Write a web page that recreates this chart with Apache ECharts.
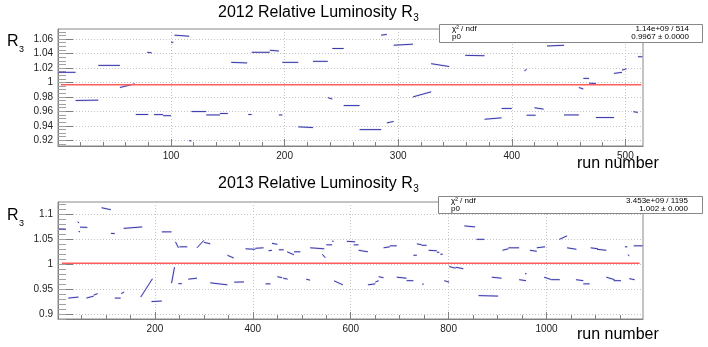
<!DOCTYPE html>
<html>
<head>
<meta charset="utf-8">
<script src="https://cdn.jsdelivr.net/npm/echarts@6/dist/echarts.min.js"></script>
<style>
html, body { margin: 0; padding: 0; background: #fff; }
#chart { width: 708px; height: 347px; }
</style>
</head>
<body>
<div id="chart"></div>
<script>
// one entry per fill: [first run, last run, R3 at first run, R3 at last run]
var seg2012 = [
    [1, 16, 1.014, 1.014], [16, 36, 0.975, 0.9755], [36, 55, 1.0236, 1.0236],
    [55, 68, 0.993, 0.998], [69, 80, 0.9556, 0.9556], [79, 83, 1.0417, 1.041],
    [85, 93, 0.9555, 0.9555], [93, 100, 0.954, 0.954], [100, 102, 1.0556, 1.0556],
    [103, 116, 1.0655, 1.064], [116, 118, 0.9194, 0.919], [118, 131, 0.9597, 0.9597],
    [131, 143, 0.955, 0.955], [143, 150, 0.957, 0.957], [153, 167, 1.0278, 1.027],
    [168, 171, 0.9556, 0.9556], [171, 187, 1.0417, 1.0417], [187, 195, 1.0445, 1.0435],
    [195, 198, 0.955, 0.955], [198, 212, 1.0278, 1.0278], [212, 225, 0.9385, 0.9375],
    [225, 238, 1.0292, 1.0292], [238, 242, 0.979, 0.977], [242, 252, 1.047, 1.047],
    [252, 266, 0.968, 0.968], [266, 285, 0.9347, 0.9347], [285, 290, 1.0655, 1.0665],
    [290, 296, 0.944, 0.946], [296, 313, 1.0515, 1.053], [313, 329, 0.98, 0.987],
    [329, 345, 1.026, 1.022], [359, 376, 1.0375, 1.037], [376, 391, 0.949, 0.951],
    [391, 400, 0.964, 0.964], [407, 412, 1.0568, 1.0568], [411, 413, 1.016, 1.018],
    [413, 421, 0.9546, 0.9546], [420, 428, 0.965, 0.963], [428, 431, 1.057, 1.055],
    [431, 446, 1.0505, 1.0515], [446, 459, 0.955, 0.955], [459, 463, 0.993, 0.991],
    [463, 468, 1.0056, 1.0056], [468, 474, 0.999, 0.9985], [474, 490, 0.9514, 0.9514],
    [490, 497, 1.0125, 1.014], [497, 501, 1.017, 1.019], [507, 511, 0.9595, 0.9585],
    [511, 515, 1.0356, 1.0356]
];
var seg2013 = [
    [4, 18, 1.071, 1.0705], [23, 44, 0.932, 0.934], [42, 43, 1.085, 1.083],
    [44, 45, 1.066, 1.065], [47, 62, 1.0745, 1.074], [60, 75, 0.932, 0.936],
    [75, 83, 0.938, 0.941], [91, 110, 1.1135, 1.1095], [110, 118, 1.062, 1.0615],
    [118, 130, 0.932, 0.932], [131, 137, 0.941, 0.944], [136, 174, 1.072, 1.075],
    [171, 195, 0.934, 0.971], [193, 214, 0.925, 0.926], [214, 234, 1.065, 1.065],
    [234, 240, 0.962, 0.994], [242, 248, 1.045, 1.033], [248, 255, 0.961, 0.961],
    [250, 266, 1.035, 1.035], [268, 286, 0.970, 0.972], [286, 300, 1.033, 1.048],
    [300, 313, 1.044, 1.041], [313, 348, 0.9626, 0.9586], [348, 361, 1.018, 1.0125],
    [362, 382, 0.964, 0.9645], [385, 405, 1.031, 1.030], [405, 422, 1.032, 1.033],
    [426, 436, 0.9606, 0.9606], [432, 439, 1.027, 1.028], [439, 450, 1.042, 1.040],
    [450, 460, 0.975, 0.973], [453, 463, 1.029, 1.029], [462, 471, 0.972, 0.970],
    [470, 484, 1.025, 1.019], [484, 497, 1.025, 1.025], [509, 517, 0.970, 0.968],
    [517, 546, 1.033, 1.031], [542, 548, 1.02, 1.013], [550, 562, 1.039, 1.039],
    [562, 565, 1.046, 1.046], [566, 584, 0.9667, 0.9586], [592, 609, 1.046, 1.045],
    [606, 616, 1.039, 1.039], [616, 635, 1.028, 1.025], [635, 650, 0.9586, 0.9606],
    [650, 657, 0.964, 0.967], [657, 667, 0.975, 0.973], [667, 680, 1.033, 1.035],
    [680, 694, 1.037, 1.037], [694, 714, 0.974, 0.972], [714, 728, 0.967, 0.967],
    [728, 735, 1.018, 1.018], [735, 745, 1.041, 1.039], [745, 755, 1.038, 1.038],
    [746, 748, 0.96, 0.96], [759, 776, 1.028, 1.027], [776, 781, 1.024, 1.024],
    [783, 788, 1.02, 1.02], [791, 801, 0.967, 0.964], [801, 814, 0.9955, 0.992],
    [814, 830, 0.994, 0.991], [832, 854, 1.077, 1.075], [857, 873, 1.050, 1.050],
    [861, 901, 0.937, 0.936], [888, 908, 0.974, 0.972], [910, 922, 1.028, 1.031],
    [922, 944, 1.033, 1.033], [944, 958, 0.969, 0.967], [956, 957, 0.981, 0.981],
    [966, 980, 1.028, 1.026], [980, 997, 1.033, 1.035], [995, 1010, 0.974, 0.969],
    [1010, 1027, 0.969, 0.969], [1026, 1042, 1.050, 1.057], [1042, 1061, 1.033, 1.030],
    [1060, 1075, 0.969, 0.967], [1075, 1088, 0.9606, 0.9606], [1090, 1105, 1.033, 1.031],
    [1103, 1122, 1.030, 1.028], [1122, 1139, 0.974, 0.969], [1137, 1152, 0.967, 0.967],
    [1160, 1165, 1.035, 1.035], [1166, 1169, 1.019, 1.017], [1169, 1180, 0.971, 0.969],
    [1178, 1196, 1.037, 1.037]
];

// pol0 fits
var fit2012 = 0.9967;
var fit2013 = 1.002;
var fitRange2012 = [3, 514];
var fitRange2013 = [10, 1190];
var stats2012 = ['1.14e+09 / 514', '0.9967 \u00b1 0.0000'];
var stats2013 = ['3.453e+09 / 1195', '1.002 \u00b1 0.000'];

// axes
var xRange2012 = [0.5, 515.5];
var yRange2012 = [0.912, 1.074];
var xRange2013 = [2, 1197];
var yRange2013 = [0.89, 1.125];
var xLabels2012 = [100, 200, 300, 400, 500];
var yLabels2012 = [0.92, 0.94, 0.96, 0.98, 1, 1.02, 1.04, 1.06];
var xLabels2013 = [200, 400, 600, 800, 1000];
var yLabels2013 = [0.9, 0.95, 1, 1.05, 1.1];

function steps(from, to, step) {
    var out = [];
    for (var v = from; v <= to + 1e-9; v += step) out.push(Math.round(v * 10000) / 10000);
    return out;
}
var xMinor2012 = steps(20, 500, 20);
var yMinor2012 = steps(0.915, 1.07, 0.005);
var xMinor2013 = steps(50, 1150, 50);
var yMinor2013 = steps(0.89, 1.12, 0.01);

var FONT = 'Liberation Sans';
var axisGray = '#808080';
function plain(v) { return String(v); }

function mainX(grid, range, labels) {
    return {
        type: 'value', gridIndex: grid, min: range[0], max: range[1], position: 'bottom',
        axisLine: { onZero: false, lineStyle: { color: axisGray } },
        axisTick: { inside: true, length: 7, customValues: labels, lineStyle: { color: axisGray } },
        axisLabel: { customValues: labels, formatter: plain, color: '#222', fontSize: 10, fontFamily: FONT, margin: 5 },
        splitLine: { show: true, lineStyle: { color: '#c4c4c4', type: [1, 2] } }
    };
}
function minorX(grid, range, ticks) {
    return {
        type: 'value', gridIndex: grid, min: range[0], max: range[1], position: 'bottom',
        axisLine: { show: false, onZero: false },
        axisTick: { inside: true, length: 4, customValues: ticks, lineStyle: { color: axisGray } },
        axisLabel: { show: false }, splitLine: { show: false }
    };
}
function mainY(grid, range, labels) {
    return {
        type: 'value', gridIndex: grid, min: range[0], max: range[1], position: 'left',
        axisLine: { onZero: false, lineStyle: { color: axisGray } },
        axisTick: { inside: true, length: 15, customValues: labels, lineStyle: { color: axisGray } },
        axisLabel: { customValues: labels, formatter: plain, color: '#222', fontSize: 10, fontFamily: FONT, margin: 5 },
        splitLine: { show: true, lineStyle: { color: '#c4c4c4', type: [1, 2] } }
    };
}
function minorY(grid, range, ticks) {
    return {
        type: 'value', gridIndex: grid, min: range[0], max: range[1], position: 'left',
        axisLine: { show: false, onZero: false },
        axisTick: { inside: true, length: 8, customValues: ticks, lineStyle: { color: '#a0a0a0' } },
        axisLabel: { show: false }, splitLine: { show: false }
    };
}

function segItem(params, api) {
    var p0 = api.coord([api.value(0), api.value(2)]);
    var p1 = api.coord([api.value(1), api.value(3)]);
    var shape = { x1: p0[0], y1: p0[1], x2: Math.max(p1[0], p0[0] + 1.5), y2: p1[1] };
    return {
        type: 'group',
        children: [
            { type: 'line', shape: shape, style: { stroke: 'rgba(130,130,220,0.25)', lineWidth: 2 } },
            { type: 'line', shape: shape, style: { stroke: '#3a3aaa', lineWidth: 1 } }
        ]
    };
}

function segSeries(idx, data) {
    return {
        type: 'custom', xAxisIndex: idx, yAxisIndex: idx, renderItem: segItem, clip: true,
        encode: { x: [0, 1], y: [2, 3] }, data: data, silent: true, z: 3
    };
}
function fitSeries(idx, range, value) {
    return {
        type: 'line', xAxisIndex: idx, yAxisIndex: idx, showSymbol: false, silent: true, z: 4,
        lineStyle: { color: '#ff5c5c', width: 1.5 },
        data: [[range[0], value], [range[1], value]]
    };
}

var ctx = document.createElement('canvas').getContext('2d');
function textW(txt, font) { ctx.font = font; return ctx.measureText(txt).width; }

function txt(x, y, s, size, align) {
    return {
        type: 'text', x: x, y: y, z: 110,
        style: { text: s, font: size + 'px "' + FONT + '"', fill: '#000',
                 textAlign: align || 'left', textVerticalAlign: 'middle' }
    };
}
function withSub(x, y, main, sub, size, subSize, dy) {
    var w = textW(main, size + 'px "' + FONT + '"');
    return [txt(x, y, main, size), txt(x + w + 0.5, y + dy, sub, subSize)];
}
function statsBox(x, y, w, h, vals) {
    return [
        { type: 'rect', z: 100, shape: { x: x + 0.5, y: y + 0.5, width: w, height: h },
          style: { fill: '#fff', stroke: '#888', lineWidth: 1 } },
        txt(x + 13, y + 5, '\u03c7\u00b2 / ndf', 8),
        txt(x + 13, y + 13, 'p0', 8),
        txt(x + 250, y + 5, vals[0], 8, 'right'),
        txt(x + 250, y + 13, vals[1], 8, 'right')
    ];
}

var graphics = []
    .concat(withSub(218, 12.7, '2012 Relative Luminosity R', '3', 16, 10, 6))
    .concat(withSub(218, 183.5, '2013 Relative Luminosity R', '3', 16, 10, 6))
    .concat(withSub(7, 41.5, 'R', '3', 16, 9, 8))
    .concat(withSub(7, 215.5, 'R', '3', 16, 9, 8))
    .concat([txt(577, 163.5, 'run number', 16), txt(577, 334.5, 'run number', 16)])
    .concat(statsBox(439, 24, 263, 18, stats2012))
    .concat(statsBox(438, 196, 264, 17, stats2013));

var myChart = echarts.init(document.getElementById('chart'), null, { renderer: 'canvas' });
var option = {
    animation: false,
    backgroundColor: '#fff',
    grid: [
        { left: 58, top: 29, width: 585, height: 117, show: true, borderColor: '#888', borderWidth: 1 },
        { left: 58, top: 202, width: 585, height: 117, show: true, borderColor: '#888', borderWidth: 1 }
    ],
    xAxis: [
        mainX(0, xRange2012, xLabels2012), minorX(0, xRange2012, xMinor2012),
        mainX(1, xRange2013, xLabels2013), minorX(1, xRange2013, xMinor2013)
    ],
    yAxis: [
        mainY(0, yRange2012, yLabels2012), minorY(0, yRange2012, yMinor2012),
        mainY(1, yRange2013, yLabels2013), minorY(1, yRange2013, yMinor2013)
    ],
    series: [
        segSeries(0, seg2012), fitSeries(0, fitRange2012, fit2012),
        segSeries(2, seg2013), fitSeries(2, fitRange2013, fit2013)
    ],
    graphic: graphics
};
myChart.setOption(option);
</script>
</body>
</html>
